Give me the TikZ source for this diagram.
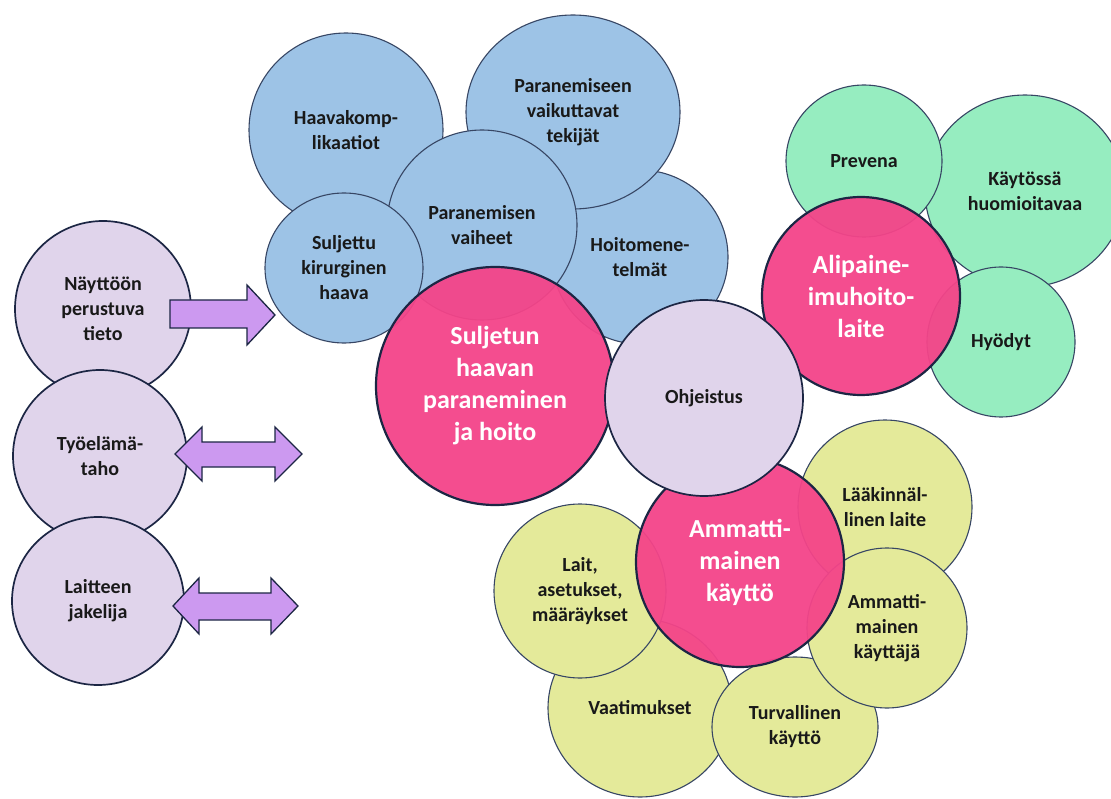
\documentclass[tikz,border=0pt]{standalone}
\usepackage{fontspec}
\setmainfont{Carlito}
\usetikzlibrary{shapes.geometric}
\definecolor{cblue}{RGB}{157,195,230}
\definecolor{cpink}{RGB}{244,68,137}
\definecolor{clav}{RGB}{224,212,235}
\definecolor{cgreen}{RGB}{150,237,192}
\definecolor{cyel}{RGB}{228,234,154}
\definecolor{carrow}{RGB}{204,153,240}
\definecolor{cline}{RGB}{55,70,100}
\definecolor{cdark}{RGB}{28,38,68}
\tikzset{
  bub/.style={ellipse, draw=cline, line width=1.1pt, inner sep=0pt, align=center,
    font=\fontsize{20}{25}\selectfont\bfseries, text=black!90},
  lav/.style={bub, fill=clav, draw=cdark, line width=1.7pt},
  blu/.style={bub, fill=cblue},
  grn/.style={bub, fill=cgreen},
  yel/.style={bub, fill=cyel},
  hub/.style={ellipse, draw=cdark, line width=2.2pt, fill=cpink, fill opacity=0.95,
    text opacity=1, text=white, inner sep=0pt, align=center,
    font=\fontsize{26}{32}\selectfont\bfseries},
  blk/.style={draw=cdark, line width=1.3pt, fill=carrow, line join=miter}
}
\begin{document}
\begin{tikzpicture}[x=1pt,y=-1pt]
\useasboundingbox (0,0) rectangle (1111,799);
\clip (0,0) rectangle (1111,799);
\fill[white] (0,0) rectangle (1111,799);
% left group
\node[lav, minimum width=176pt, minimum height=176pt] (nayt) at (103,309) {Näyttöön\\perustuva\\tieto};
\node[lav, minimum width=174pt, minimum height=172pt] (tyo) at (100,456) {Työelämä-\\taho};
\node[lav, minimum width=172pt, minimum height=168pt] (jak) at (98,601) {Laitteen\\jakelija};
% arrows
\draw[blk] (170,300) -- (247,300) -- (247,285) -- (275,315) -- (247,345) -- (247,328) -- (170,328) -- cycle;
\draw[blk] (175,454) -- (202,427) -- (202,442) -- (275,442) -- (275,427) -- (302,454)
  -- (275,481) -- (275,467) -- (202,467) -- (202,481) -- cycle;
\draw[blk] (173,606) -- (199,578) -- (199,593) -- (271,593) -- (271,578) -- (298,606)
  -- (271,634) -- (271,620) -- (199,620) -- (199,634) -- cycle;
% blue group
\node[blu, minimum width=194pt, minimum height=194pt] (komp) at (346,130) {Haavakomp-\\likaatiot};
\node[blu, minimum width=176pt, minimum height=174pt] (hoito) at (640,257) {Hoitomene-\\telmät};
\node[blu, minimum width=214pt, minimum height=194pt] (tek) at (573,112) {Paranemiseen\\vaikuttavat\\tekijät};
\node[blu, minimum width=190pt, minimum height=190pt] (vai) at (482,225) {Paranemisen\\vaiheet};
\node[blu, minimum width=158pt, minimum height=150pt] (sulj) at (344,268) {Suljettu\\kirurginen\\haava};
\node[hub, minimum width=238pt, minimum height=238pt] (haava) at (495,386) {Suljetun\\haavan\\paraneminen\\ja hoito};
% green group
\node[grn, minimum width=200pt, minimum height=192pt] (kayt) at (1025,191) {Käytössä\\huomioitavaa};
\node[grn, minimum width=156pt, minimum height=152pt] (prev) at (864,161) {Prevena};
\node[grn, minimum width=148pt, minimum height=150pt] (hyod) at (1001,342) {Hyödyt};
\node[hub, minimum width=198pt, minimum height=198pt] (ali) at (861,296) {Alipaine-\\imuhoito-\\laite};
% yellow group
\node[yel, minimum width=184pt, minimum height=178pt] (vaat) at (640,708) {Vaatimukset};
\node[yel, minimum width=172pt, minimum height=174pt] (lait) at (580,591) {Lait,\\asetukset,\\määräykset};
\node[yel, minimum width=166pt, minimum height=140pt] (turv) at (795,727) {Turvallinen\\käyttö};
\node[yel, minimum width=174pt, minimum height=174pt] (laak) at (885,507) {Lääkinnäl-\\linen laite};
\node[yel, minimum width=160pt, minimum height=160pt] (kayttaja) at (887,628) {Ammatti-\\mainen\\käyttäjä};
\node[hub, minimum width=208pt, minimum height=210pt] (amm) at (740,562) {Ammatti-\\mainen\\käyttö};
% center
\node[lav, minimum width=198pt, minimum height=196pt] (ohj) at (704,398) {Ohjeistus};
\end{tikzpicture}
\end{document}
